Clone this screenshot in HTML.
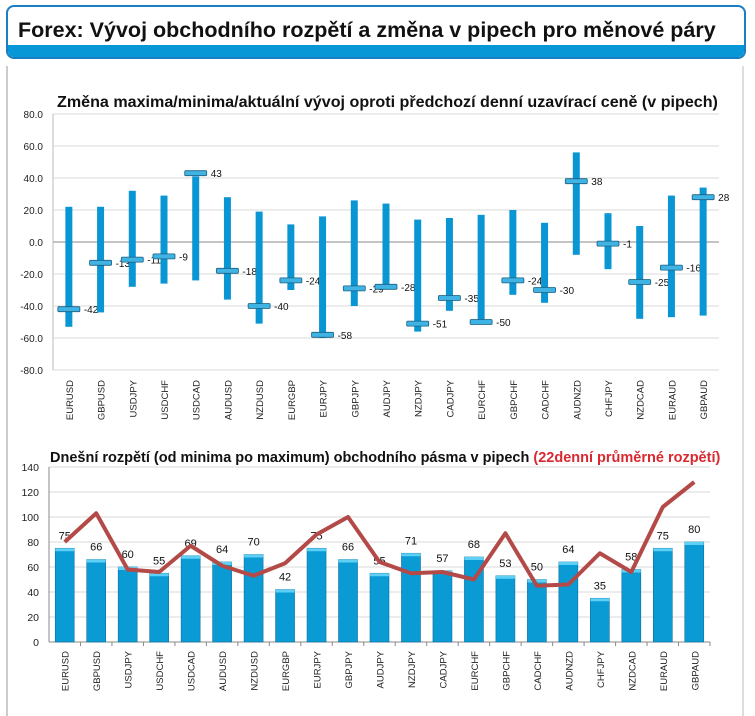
<!DOCTYPE html>
<html><head><meta charset="utf-8">
<style>
body{margin:0;width:755px;height:708px;background:#fff;overflow:hidden;font-family:"Liberation Sans",sans-serif}
#hdr{position:absolute;left:6px;top:5px;width:740px;height:54px;border:2px solid #1a7fc0;border-radius:8px;box-sizing:border-box;overflow:hidden;background:#fff}
#hdr .band{position:absolute;left:0;right:0;bottom:0;height:12px;background:#0797d6}
#hdr .t{position:absolute;left:10px;top:11px;font-size:21.5px;font-weight:bold;color:#111;white-space:nowrap}
#panel{position:absolute;left:6px;top:66px;width:738px;height:650px;border-left:2px solid #ccc;border-right:2px solid #ddd;box-sizing:border-box}
svg{position:absolute;left:0;top:0}
</style></head><body>
<div id="hdr"><div class="t">Forex: Vývoj obchodního rozpětí a změna v pipech pro měnové páry</div><div class="band"></div></div>
<div id="panel"></div>
<svg id="c" width="755" height="708"></svg>
<script>
const pairs=["EURUSD","GBPUSD","USDJPY","USDCHF","USDCAD","AUDUSD","NZDUSD","EURGBP","EURJPY","GBPJPY","AUDJPY","NZDJPY","CADJPY","EURCHF","GBPCHF","CADCHF","AUDNZD","CHFJPY","NZDCAD","EURAUD","GBPAUD"];
const highs=[22,22,32,29,41,28,19,11,16,26,24,14,15,17,20,12,56,18,10,29,34];
const lows=[-53,-44,-28,-26,-24,-36,-51,-30,-60,-40,-29,-56,-43,-50,-33,-38,-8,-17,-48,-47,-46];
const current=[-42,-13,-11,-9,43,-18,-40,-24,-58,-29,-28,-51,-35,-50,-24,-30,38,-1,-25,-16,28];
const topTicks=[80,60,40,20,0,-20,-40,-60,-80];
const ranges=[75,66,60,55,69,64,70,42,75,66,55,71,57,68,53,50,64,35,58,75,80];
const avg22=[80,103,58,56,77,61,53,63,86,100,64,55,56,50,87,45,46,71,56,108,128];
const botTicks=[0,20,40,60,80,100,120,140];
const NS="http://www.w3.org/2000/svg",svg=document.getElementById('c');
function mk(t,a,txt){const e=document.createElementNS(NS,t);for(const k in a)e.setAttribute(k,a[k]);if(txt!=null)e.textContent=txt;svg.appendChild(e);return e;}
// top chart
const tx0=53,tx1=719,tbw=(tx1-tx0)/pairs.length;
const ty=v=>242-v*1.6, tx=i=>tx0+tbw*(i+0.5);
let e=mk('text',{x:57,y:107,'font-size':16.1,'font-weight':'bold',fill:'#111'},'Změna maxima/minima/aktuální vývoj oproti předchozí denní uzavírací ceně (v pipech)');

topTicks.forEach(v=>{
 e=mk('line',{x1:tx0,x2:tx1,y1:ty(v),y2:ty(v),stroke:v==0?'#888':'#d9d9d9'});
 e=mk('text',{x:tx0-10,y:ty(v)+4,'font-size':10,'text-anchor':'end',fill:'#222'},v.toFixed(1));
});
mk('line',{x1:tx0,x2:tx0,y1:ty(80),y2:ty(-80),stroke:'#bbb'});
pairs.forEach((p,i)=>{
 const x=tx(i);
 e=mk('rect',{x:x-3.5,y:ty(highs[i]),width:7,height:ty(lows[i])-ty(highs[i]),fill:'#0a95d3'});
 e=mk('rect',{x:x-11,y:ty(current[i])-2.5,width:22,height:5,fill:'#3fb3e3',stroke:'#1d5f80','stroke-width':0.8,rx:1});
 e=mk('text',{x:x+15,y:ty(current[i])+4,'font-size':10,fill:'#111'},String(current[i]));
 e=mk('text',{x:0,y:0,'font-size':9.5,'text-anchor':'end',fill:'#222',transform:`translate(${x+4},380) rotate(-90)`},p);
});
// bottom chart
const bx0=49,bx1=710,bbw=(bx1-bx0)/pairs.length;
const by=v=>642-v*1.25, bx=i=>bx0+bbw*(i+0.5);
e=mk('text',{x:50,y:462,'font-size':14.5,'font-weight':'bold',fill:'#111'});
let ts=document.createElementNS(NS,'tspan');ts.textContent='Dnešní rozpětí (od minima po maximum) obchodního pásma v pipech ';e.appendChild(ts);
ts=document.createElementNS(NS,'tspan');ts.setAttribute('fill','#d9282f');ts.textContent='(22denní průměrné rozpětí)';e.appendChild(ts);
botTicks.forEach(v=>{
 if(v>0){e=mk('line',{x1:bx0,x2:bx1,y1:by(v),y2:by(v),stroke:'#d9d9d9'});}
 e=mk('text',{x:bx0-10,y:by(v)+4,'font-size':10.5,'text-anchor':'end',fill:'#222'},String(v));
});
mk('line',{x1:bx0,x2:bx0,y1:by(140),y2:by(0),stroke:'#888'});
mk('line',{x1:bx0,x2:bx1,y1:by(0),y2:by(0),stroke:'#888'});
pairs.forEach((p,i)=>{
 const x=bx(i);
 e=mk('rect',{x:x-9.5,y:by(ranges[i]),width:19,height:by(0)-by(ranges[i]),fill:'#0a9bd5',stroke:'#0b6f9e','stroke-width':0.6});
 e=mk('rect',{x:x-9.5,y:by(ranges[i]),width:19,height:3,fill:'#5fd0f5'});
 e=mk('text',{x:x,y:by(ranges[i])-9,'font-size':11,'text-anchor':'middle',fill:'#111'},String(ranges[i]));
 e=mk('text',{x:0,y:0,'font-size':9.5,'text-anchor':'end',fill:'#222',transform:`translate(${x+4},651) rotate(-90)`},p);
 mk('line',{x1:bx0+bbw*(i+1),x2:bx0+bbw*(i+1),y1:by(0),y2:by(0)+4,stroke:'#888'});
});
e=mk('polyline',{points:avg22.map((v,i)=>bx(i)+','+by(v)).join(' '),fill:'none',stroke:'#b34a48','stroke-width':4,'stroke-linejoin':'round'});

</script>
</body></html>
